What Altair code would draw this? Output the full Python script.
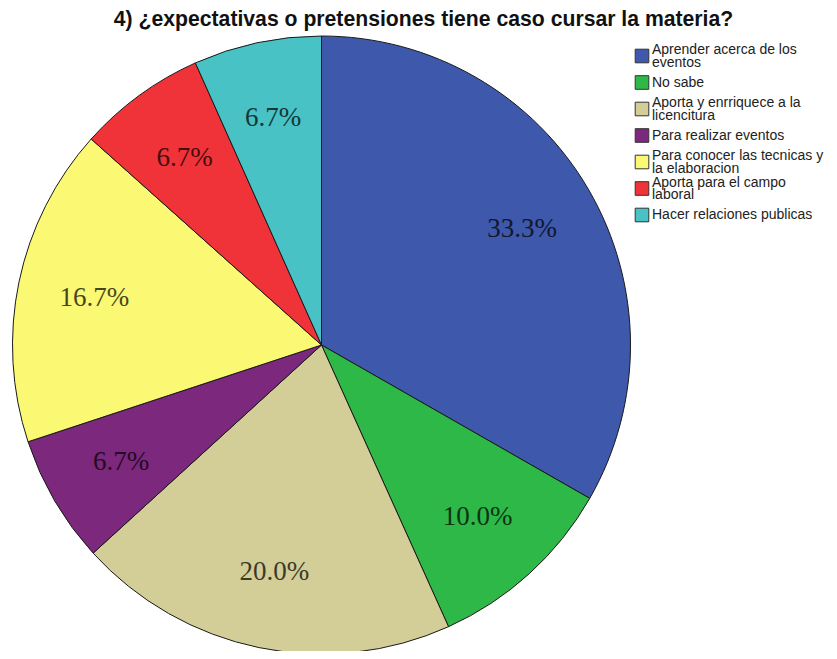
import altair as alt
import pandas as pd

categories = [
    "Aprender acerca de los\neventos",
    "No sabe",
    "Aporta  y enrriquece a la\nlicencitura",
    "Para realizar eventos",
    "Para conocer las tecnicas y\nla elaboracion",
    "Aporta para el campo\nlaboral",
    "Hacer relaciones publicas",
]
percents = [33.3, 10.0, 20.0, 6.7, 16.7, 6.7, 6.7]
labels = ["33.3%", "10.0%", "20.0%", "6.7%", "16.7%", "6.7%", "6.7%"]
colors = ["#3E58AC", "#2EB848", "#D3CE97", "#7C287D", "#FBF873", "#EF3338", "#48C2C5"]

df = pd.DataFrame({
    "cat": categories,
    "pct": percents,
    "label": labels,
    "idx": list(range(len(categories))),
})

CX, CY, R = 313.5, 297, 309

color_scale = alt.Scale(domain=categories, range=colors)

base = alt.Chart(df).encode(
    theta=alt.Theta("pct:Q", stack=True),
    order=alt.Order("idx:Q"),
)

pie = base.mark_arc(stroke="#1a1a1a", strokeWidth=1, radius=R).encode(
    x=alt.value(CX),
    y=alt.value(CY),
    color=alt.Color("cat:N", sort=categories, scale=color_scale, legend=None),
)

text = base.mark_text(
    radius=232,
    font="Liberation Serif",
    fontSize=27,
    color="#000000",
    opacity=0.72,
).encode(
    x=alt.value(CX),
    y=alt.value(CY),
    text="label:N",
)

# legend drawn as its own layers (squares + wrapped labels)
legend_y = alt.Y(
    "cat:N",
    sort=categories,
    axis=None,
    scale=alt.Scale(type="point", range=[8, 167], padding=0),
)

leg_sq = alt.Chart(df).mark_square(
    size=185, opacity=1, stroke="#333333", strokeWidth=1
).encode(
    x=alt.value(634),
    y=legend_y,
    color=alt.Color("cat:N", sort=categories, scale=color_scale, legend=None),
)

txt_style = dict(
    align="left",
    baseline="middle",
    lineBreak="\n",
    lineHeight=12.5,
    font="Liberation Sans",
    fontSize=14,
    color="#222222",
)

leg_txt1 = alt.Chart(df).transform_filter(
    "indexof(datum.cat, '\\n') < 0"
).mark_text(**txt_style).encode(
    x=alt.value(644),
    y=legend_y,
    text="cat:N",
)

leg_txt2 = alt.Chart(df).transform_filter(
    "indexof(datum.cat, '\\n') >= 0"
).mark_text(dy=-6, **txt_style).encode(
    x=alt.value(644),
    y=legend_y,
    text="cat:N",
)

chart = alt.layer(pie, text, leg_sq, leg_txt1, leg_txt2).properties(
    width=821,
    height=603,
    padding={"left": 0, "top": 40, "right": 0, "bottom": 0},
    autosize=alt.AutoSizeParams(type="none"),
    title=alt.TitleParams(
        "4) ¿expectativas o pretensiones tiene caso cursar la materia?",
        font="Liberation Sans",
        fontSize=21.2,
        fontWeight="bold",
        color="#111111",
        anchor="middle",
        dx=5,
    ),
).configure_view(stroke="transparent")

chart.save("out.html", embed_options={"renderer": "svg", "actions": False})
